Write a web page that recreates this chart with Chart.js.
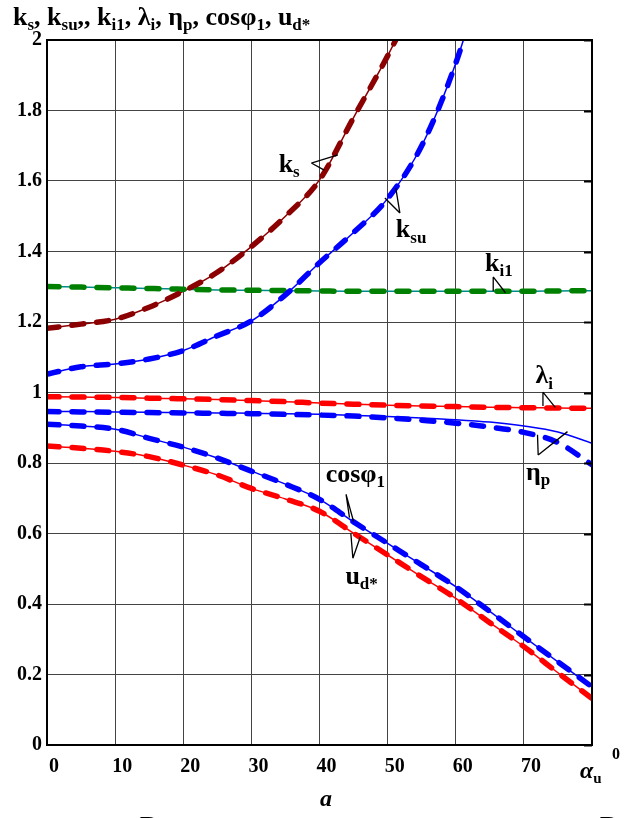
<!DOCTYPE html>
<html>
<head>
<meta charset="utf-8">
<script src="https://cdn.jsdelivr.net/npm/chart.js@4"></script>
<style>
  html, body { margin: 0; padding: 0; background: #fff; }
  #wrap { width: 636px; height: 818px; }
</style>
</head>
<body>
<div id="wrap"><canvas id="chart" width="636" height="818"></canvas></div>
<script>
// firing angle, degrees
let angles = [0, 5, 10, 15, 20, 25, 30, 35, 40, 45, 50, 55, 60, 65, 70, 75, 80]

// curves (null = off the top of the chart)
let ks     = [1.182, 1.194, 1.208, 1.242, 1.287, 1.341, 1.414, 1.500, 1.603, 1.780, 1.955, 2.15, null, null, null, null, null]
let ksu    = [1.052, 1.073, 1.081, 1.095, 1.119, 1.161, 1.203, 1.277, 1.368, 1.454, 1.550, 1.700, 1.934, 2.25, null, null, null]
let ki1    = [1.301, 1.299, 1.297, 1.295, 1.293, 1.291, 1.290, 1.289, 1.288, 1.287, 1.287, 1.287, 1.287, 1.287, 1.287, 1.288, 1.289]
let lambda = [0.988, 0.987, 0.986, 0.984, 0.982, 0.980, 0.977, 0.974, 0.970, 0.967, 0.964, 0.962, 0.960, 0.958, 0.957, 0.956, 0.955]
let etaCalc = [0.946, 0.946, 0.945, 0.944, 0.943, 0.942, 0.941, 0.940, 0.938, 0.935, 0.932, 0.928, 0.923, 0.916, 0.905, 0.888, 0.856]
let etaExp  = [0.946, 0.945, 0.944, 0.943, 0.942, 0.941, 0.940, 0.938, 0.936, 0.933, 0.928, 0.921, 0.913, 0.902, 0.887, 0.858, 0.795]
let cosPhi = [0.910, 0.905, 0.896, 0.870, 0.845, 0.814, 0.777, 0.740, 0.697, 0.633, 0.572, 0.511, 0.449, 0.379, 0.307, 0.236, 0.165]
let ud     = [0.848, 0.842, 0.833, 0.818, 0.794, 0.766, 0.728, 0.698, 0.663, 0.601, 0.539, 0.477, 0.416, 0.347, 0.279, 0.205, 0.132]

let xTicks = [0, 10, 20, 30, 40, 50, 60, 70, 80]

let serif = '"Liberation Serif", "DejaVu Serif", serif'

function series (values, color, dashed) {
    return {
        data: angles.map((a, i) => ({ x: a, y: values[i] })),
        borderColor: color,
        backgroundColor: color,
        borderWidth: dashed ? 5.5 : 1.5,
        borderDash: dashed ? [12, 13] : [],
        borderCapStyle: dashed ? 'round' : 'butt',
        pointRadius: 0,
        cubicInterpolationMode: 'monotone',
        spanGaps: false,
        order: dashed ? 1 : 2
    }
}

// draws text with subscripts / superscripts: parts = [[text, 'n'|'s'|'p'|'i'], ...]
function richText (ctx, parts, x, y, size) {
    let small = Math.round(size * 0.64)
    for (let p of parts) {
        let kind = p[1]
        if (kind == 's' || kind == 'p') {
            ctx.font = 'bold ' + small + 'px ' + serif
            ctx.fillText(p[0], x, kind == 's' ? y + size * 0.2 : y - size * 0.45)
        } else if (kind == 'i') {
            ctx.font = 'italic bold ' + size + 'px ' + serif
            ctx.fillText(p[0], x, y)
        } else {
            ctx.font = 'bold ' + size + 'px ' + serif
            ctx.fillText(p[0], x, y)
        }
        x += ctx.measureText(p[0]).width
    }
}

// callouts in data units: text anchor, pointer apex, two pointer ends
let callouts = [
    { parts: [['k', 'n'], ['s', 's']], at: [34.0, 1.626], apex: [38.8, 1.651], ends: [[42.7, 1.674], [40.7, 1.631]] },
    { parts: [['k', 'n'], ['su', 's']], at: [51.2, 1.440], apex: [51.8, 1.509], ends: [[49.6, 1.552], [51.2, 1.580]] },
    { parts: [['k', 'n'], ['i1', 's']], at: [64.3, 1.345], apex: [65.5, 1.328], ends: [[65.5, 1.287], [67.3, 1.283]] },
    { parts: [['λ', 'n'], ['i', 's']], at: [71.7, 1.026], apex: [72.8, 1.001], ends: [[72.8, 0.962], [74.6, 0.958]] },
    { parts: [['η', 'n'], ['p', 's']], at: [70.3, 0.752], apex: [72.1, 0.823], ends: [[72.0, 0.880], [76.4, 0.889]] },
    { parts: [['cosφ', 'n'], ['1', 's']], at: [40.9, 0.746], apex: [43.9, 0.711], ends: [[45.0, 0.634], [44.4, 0.645]] },
    { parts: [['u', 'n'], ['d*', 's']], at: [43.8, 0.456], apex: [44.9, 0.530], ends: [[44.6, 0.600], [46.0, 0.591]] }
]

let textPlugin = {
    id: 'texts',
    afterDraw (chart) {
        let ctx = chart.ctx
        let xs = chart.scales.x
        let ys = chart.scales.y
        let area = chart.chartArea
        ctx.save()
        ctx.fillStyle = '#000'
        ctx.textBaseline = 'alphabetic'
        ctx.textAlign = 'left'

        // callouts
        ctx.strokeStyle = '#000'
        ctx.lineWidth = 1.3
        for (let c of callouts) {
            let ax = xs.getPixelForValue(c.apex[0]), ay = ys.getPixelForValue(c.apex[1])
            ctx.beginPath()
            for (let e of c.ends) {
                ctx.moveTo(ax, ay)
                ctx.lineTo(xs.getPixelForValue(e[0]), ys.getPixelForValue(e[1]))
            }
            ctx.stroke()
            richText(ctx, c.parts, xs.getPixelForValue(c.at[0]), ys.getPixelForValue(c.at[1]), 26)
        }

        // axis title on top
        richText(ctx, [['k', 'n'], ['s', 's'], [', k', 'n'], ['su', 's'], [',, k', 'n'], ['i1', 's'],
            [', λ', 'n'], ['i', 's'], [', η', 'n'], ['p', 's'], [', cosφ', 'n'], ['1', 's'],
            [', u', 'n'], ['d*', 's']], 13, 25, 26)

        // x axis name
        richText(ctx, [['α', 'i'], ['u', 's']], area.right - 12, area.bottom + 33, 24)
        ctx.font = 'bold 16px ' + serif
        ctx.fillText('0', area.right + 20, area.bottom + 14)

        // right edge: small tick stubs
        ctx.lineWidth = 2
        ctx.beginPath()
        for (let v = 0; v <= 2.001; v += 0.2) {
            let py = Math.round(ys.getPixelForValue(v)) + 0.5
            ctx.moveTo(area.right - 8, py)
            ctx.lineTo(area.right, py)
        }
        ctx.stroke()

        // cut-off caption under the chart
        ctx.font = 'bold 26px ' + serif
        ctx.fillText('В', 140, 834)
        ctx.fillText('В', 600, 834)
        ctx.font = 'italic bold 24px ' + serif
        ctx.fillText('a', 320, 806)
        ctx.restore()
    }
}

let chartCanvas = document.querySelector('#chart')
let context = chartCanvas.getContext('2d')

let chart = new Chart(context, {
    type: 'line',
    data: {
        datasets: [
            series(ks, '#8b0000', false), series(ks, '#8b0000', true),
            series(ksu, '#0000ff', false), series(ksu, '#0000ff', true),
            series(ki1, '#008b8b', false), series(ki1, '#008000', true),
            series(lambda, '#ff0000', false), series(lambda, '#ff0000', true),
            series(etaCalc, '#0000ff', false), series(etaExp, '#0000ff', true),
            series(cosPhi, '#0000ff', false), series(cosPhi, '#0000ff', true),
            series(ud, '#ff0000', false), series(ud, '#ff0000', true)
        ]
    },
    options: {
        responsive: false,
        animation: false,
        layout: { padding: { top: 40, right: 44, left: 0, bottom: 0 } },
        plugins: { legend: { display: false }, tooltip: { enabled: false } },
        scales: {
            x: {
                type: 'linear',
                min: 0,
                max: 80,
                afterFit (scale) { scale.height = 73 },
                afterBuildTicks (scale) { scale.ticks = xTicks.map(v => ({ value: v })) },
                grid: { color: '#444', lineWidth: 1, drawTicks: false },
                border: { color: '#000', width: 2 },
                ticks: {
                    padding: 10,
                    labelOffset: 7,
                    color: '#000',
                    font: { family: serif, size: 20, weight: 'bold' },
                    callback: v => (v == 80 ? '' : v)
                }
            },
            y: {
                min: 0,
                max: 2,
                afterFit (scale) { scale.width = 47 },
                grid: { color: '#444', lineWidth: 1, drawTicks: false },
                border: { color: '#000', width: 2 },
                ticks: {
                    stepSize: 0.2,
                    padding: 5,
                    color: '#000',
                    font: { family: serif, size: 20, weight: 'bold' },
                    callback: v => String(Number(v.toFixed(1)))
                }
            }
        }
    },
    plugins: [textPlugin, {
        id: 'frame',
        afterDatasetsDraw (chart) {
            let a = chart.chartArea
            let ctx = chart.ctx
            ctx.save()
            ctx.strokeStyle = '#000'
            ctx.lineWidth = 2
            ctx.strokeRect(a.left, a.top, a.right - a.left, a.bottom - a.top)
            ctx.restore()
        }
    }]
})
</script>
</body>
</html>
